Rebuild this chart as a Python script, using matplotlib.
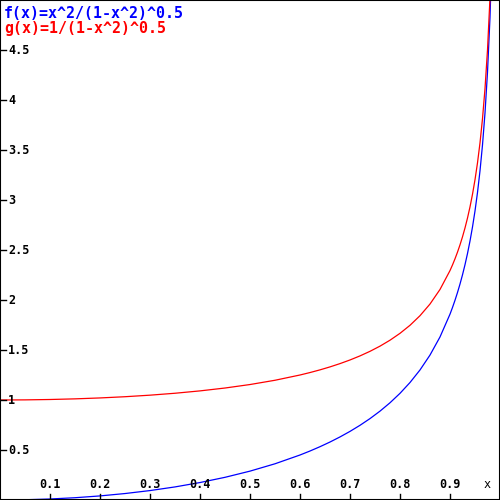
import matplotlib
matplotlib.use("Agg")
import matplotlib.pyplot as plt

# values
x_vals = [0.0, 0.05, 0.1, 0.15, 0.2, 0.25, 0.3, 0.35, 0.4, 0.45, 0.5, 0.55,
          0.6, 0.62, 0.64, 0.66, 0.68, 0.70, 0.72, 0.74, 0.76, 0.78, 0.80,
          0.82, 0.84, 0.86, 0.88, 0.90, 0.905, 0.91, 0.915, 0.92, 0.925,
          0.93, 0.935, 0.94, 0.945, 0.95, 0.955, 0.96, 0.965, 0.97, 0.975,
          0.98, 0.985]
f_vals = [0.0, 0.0025, 0.0101, 0.0228, 0.0408, 0.0646, 0.0943, 0.1308,
          0.1746, 0.2268, 0.2887, 0.3622, 0.450, 0.4899, 0.5331, 0.5798,
          0.6307, 0.6861, 0.7470, 0.8141, 0.8887, 0.9722, 1.0667, 1.1748,
          1.3004, 1.4494, 1.6304, 1.8583, 1.9252, 1.9973, 2.0751, 2.1596,
          2.2518, 2.3531, 2.4650, 2.5899, 2.7304, 2.8903, 3.0749, 3.2914,
          3.5509, 3.8703, 4.2781, 4.8262, 5.6227]
g_vals = [1.0, 1.0013, 1.0050, 1.0114, 1.0206, 1.0328, 1.0483, 1.0675,
          1.0911, 1.1198, 1.1547, 1.1974, 1.250, 1.2745, 1.3014, 1.3311,
          1.3639, 1.4003, 1.4410, 1.4868, 1.5386, 1.5980, 1.6667, 1.7471,
          1.8430, 1.9597, 2.1054, 2.2942, 2.3507, 2.4119, 2.4786, 2.5516,
          2.6318, 2.7206, 2.8197, 2.9311, 3.0575, 3.2026, 3.3715, 3.5714,
          3.8132, 4.1135, 4.5003, 5.0252, 5.7953]

x_ticks = [0.1, 0.2, 0.3, 0.4, 0.5, 0.6, 0.7, 0.8, 0.9]
x_tick_labels = ["0.1", "0.2", "0.3", "0.4", "0.5", "0.6", "0.7", "0.8", "0.9"]
y_ticks = [0.5, 1, 1.5, 2, 2.5, 3, 3.5, 4, 4.5]
y_tick_labels = ["0.5", "1", "1.5", "2", "2.5", "3", "3.5", "4", "4.5"]

f_label = "f(x)=x^2/(1-x^2)^0.5"
g_label = "g(x)=1/(1-x^2)^0.5"

blue = "#0000ff"
red = "#ff0000"
mono = "DejaVu Sans Mono"

fig = plt.figure(figsize=(5, 5), dpi=100)
ax = fig.add_axes([0, 0, 1, 1])
ax.set_xlim(0, 1)
ax.set_ylim(0, 5)

ax.plot(x_vals, f_vals, color=blue, lw=0.9)
ax.plot(x_vals, g_vals, color=red, lw=0.9)

# frame
for side in ["left", "right", "top", "bottom"]:
    ax.spines[side].set_linewidth(1.5)
    ax.spines[side].set_color("black")

ax.set_xticks([])
ax.set_yticks([])

# tick marks and labels drawn inside the axes
tick_len_x = 0.012
tick_len_y = 0.06
for xv, lab in zip(x_ticks, x_tick_labels):
    ax.plot([xv, xv], [0, tick_len_y], color="black", lw=1)
    ax.text(xv, 0.09, lab, ha="center", va="bottom", fontsize=8.5,
            fontweight="bold", family=mono)
for yv, lab in zip(y_ticks, y_tick_labels):
    ax.plot([0, tick_len_x], [yv, yv], color="black", lw=1)
    ax.text(0.016, yv, lab, ha="left", va="center", fontsize=8.5,
            fontweight="bold", family=mono)

ax.text(0.974, 0.09, "x", ha="center", va="bottom", fontsize=8.5, family=mono)

ax.text(0.008, 4.87, f_label, ha="left", va="center", fontsize=10.8,
        fontweight="bold", family=mono, color=blue)
ax.text(0.008, 4.72, g_label, ha="left", va="center", fontsize=10.8,
        fontweight="bold", family=mono, color=red)

fig.savefig("out.png", dpi=100)
